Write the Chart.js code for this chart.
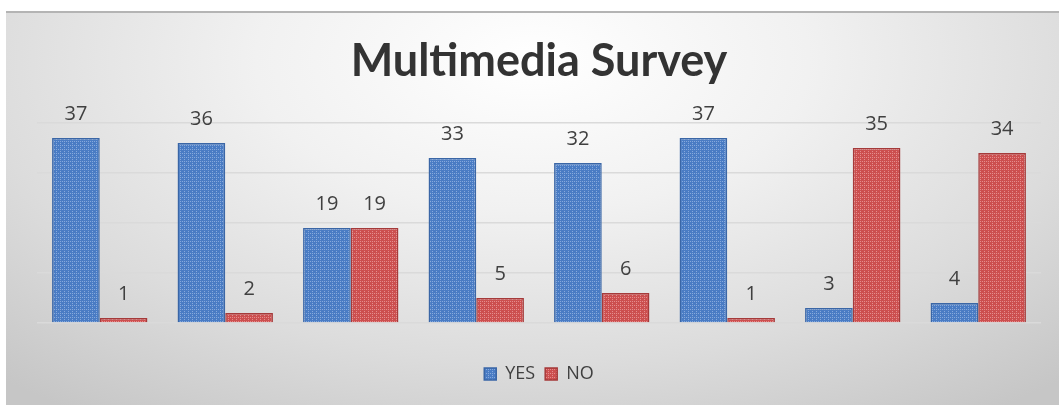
<!DOCTYPE html>
<html>
<head>
<meta charset="utf-8">
<script src="https://cdn.jsdelivr.net/npm/chart.js@4"></script>
<style>
  html, body { margin: 0; padding: 0; background: #fff; }
  #frame {
    position: absolute; left: 6px; top: 11px; width: 1053px; height: 394px;
    border-top: 2px solid #b4b4b4; box-sizing: border-box;
    background: radial-gradient(ellipse 75% 110% at 50% 12%, #ffffff 0%, #f1f1f1 35%, #dcdcdc 70%, #c6c6c6 100%);
  }
  #chart { display: block; }
</style>
</head>
<body>
<div id="frame"><canvas id="chart" width="1053" height="392"></canvas></div>
<script>
// survey answers per question
const categories = ['Q1', 'Q2', 'Q3', 'Q4', 'Q5', 'Q6', 'Q7', 'Q8'];
const yesValues = [37, 36, 19, 33, 32, 37, 3, 4];
const noValues = [1, 2, 19, 5, 6, 1, 35, 34];

// small dotted texture like the office "small grid" fill
function makePattern(base, dot) {
    const c = document.createElement('canvas');
    c.width = 4; c.height = 4;
    const g = c.getContext('2d');
    g.fillStyle = base;
    g.fillRect(0, 0, 4, 4);
    g.fillStyle = dot;
    g.fillRect(0, 0, 1, 1);
    g.fillRect(2, 2, 1, 1);
    g.fillRect(2, 0, 1, 1);
    return g.createPattern(c, 'repeat');
}

// value labels above each bar
const valueLabels = {
    id: 'valueLabels',
    afterDatasetsDraw(chart) {
        const ctx = chart.ctx;
        ctx.save();
        ctx.font = '20px "Open Sans", sans-serif';
        ctx.fillStyle = '#404040';
        ctx.textAlign = 'center';
        ctx.textBaseline = 'alphabetic';
        chart.data.datasets.forEach((ds, i) => {
            chart.getDatasetMeta(i).data.forEach((bar, j) => {
                ctx.fillText(ds.data[j], bar.x, bar.y - 18);
            });
        });
        ctx.restore();
    }
};

document.addEventListener('DOMContentLoaded', function () {
    const ctx = document.getElementById('chart').getContext('2d');
    new Chart(ctx, {
        type: 'bar',
        data: {
            labels: categories,
            datasets: [{
                label: 'YES',
                data: yesValues,
                backgroundColor: makePattern('#4a7cc4', '#86a9dc'),
                borderColor: '#3a66a6',
                borderWidth: 1.5
            }, {
                label: 'NO',
                data: noValues,
                backgroundColor: makePattern('#cc4f4f', '#e48c8c'),
                borderColor: '#a53a3a',
                borderWidth: 1.5
            }]
        },
        options: {
            responsive: false,
            animation: false,
            events: [],
            categoryPercentage: 0.76,
            barPercentage: 1,
            layout: { padding: { left: 31, right: 18, top: 0, bottom: 12 } },
            scales: {
                x: {
                    ticks: { display: false },
                    grid: { display: false },
                    border: { display: false },
                    // empty band between the bars and the legend
                    afterFit(axis) { axis.height = 32; }
                },
                y: {
                    min: 0,
                    max: 40,
                    ticks: { display: false, stepSize: 10 },
                    border: { display: false },
                    grid: { color: '#dadada', lineWidth: 1.5, drawTicks: false }
                }
            },
            plugins: {
                title: {
                    display: true,
                    text: 'Multimedia Survey',
                    color: '#333333',
                    font: { family: 'Lato', size: 45, weight: 'bold' },
                    padding: { top: 21, bottom: 35 }
                },
                legend: {
                    position: 'bottom',
                    labels: {
                        color: '#404040',
                        font: { family: '"Open Sans"', size: 18 },
                        boxWidth: 12,
                        boxHeight: 12,
                        padding: 10
                    }
                },
                tooltip: { enabled: false }
            }
        },
        plugins: [valueLabels]
    });
});
</script>
</body>
</html>
